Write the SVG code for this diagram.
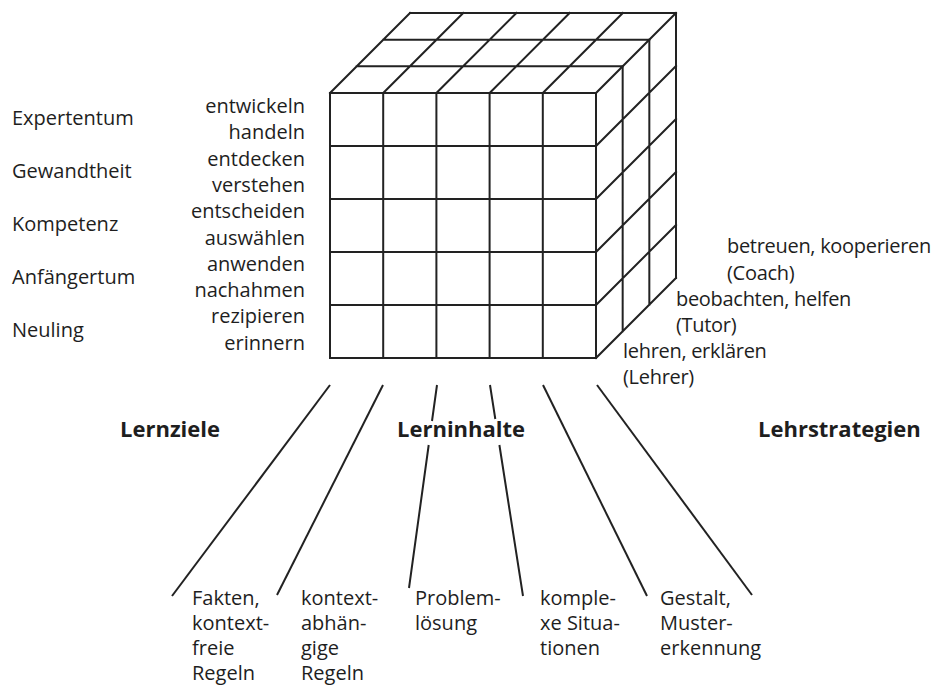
<svg xmlns="http://www.w3.org/2000/svg" width="936" height="685" viewBox="0 0 936 685">
  <style>
    .grid { fill: none; stroke: #222; stroke-width: 2; stroke-linecap: square; stroke-linejoin: miter; }
    .conn { fill: none; stroke: #222; stroke-width: 2; }
    text { font-family: "Open Sans", "Noto Sans", "Liberation Sans", sans-serif; font-size: 20px; fill: #1e1e1e; }
    .verb { text-anchor: end; }
    .tight { letter-spacing: -0.3px; }
    .head { font-weight: bold; font-size: 22px; }
  </style>
  <rect width="936" height="685" fill="#fff"/>

  <!-- the 5 x 5 x 3 cube -->
  <g id="cube">
    <!-- front face: levels x content types -->
    <path id="front-face" class="grid" d="M330 93H596M330 146H596M330 199H596M330 252H596M330 305H596M330 358H596
      M330 93V358M383.2 93V358M436.4 93V358M489.6 93V358M542.8 93V358M596 93V358"/>
    <!-- top face -->
    <path id="top-face" class="grid" d="M356.67 66.33H622.67M383.33 39.67H649.33M410 13H676
      M330 93l80 -80M383.2 93l80 -80M436.4 93l80 -80M489.6 93l80 -80M542.8 93l80 -80M596 93l80 -80"/>
    <!-- right face: teaching strategies -->
    <path id="right-face" class="grid" d="M622.67 66.33V331.33M649.33 39.67V304.67M676 13V278
      M596 146l80 -80M596 199l80 -80M596 252l80 -80M596 305l80 -80M596 358l80 -80"/>
  </g>

  <!-- competence levels -->
  <g id="levels">
    <text x="12" y="125">Expertentum</text>
    <text x="12" y="178">Gewandtheit</text>
    <text x="12" y="231">Kompetenz</text>
    <text x="12" y="284">Anfängertum</text>
    <text x="12" y="337">Neuling</text>
  </g>

  <!-- learning goals (verbs) -->
  <g id="goals">
    <text class="verb" x="305" y="113">entwickeln</text>
    <text class="verb" x="305" y="139.3">handeln</text>
    <text class="verb" x="305" y="165.6">entdecken</text>
    <text class="verb" x="305" y="191.9">verstehen</text>
    <text class="verb" x="305" y="218.2">entscheiden</text>
    <text class="verb" x="305" y="244.5">auswählen</text>
    <text class="verb" x="305" y="270.8">anwenden</text>
    <text class="verb" x="305" y="297.1">nachahmen</text>
    <text class="verb" x="305" y="323.4">rezipieren</text>
    <text class="verb" x="305" y="349.7">erinnern</text>
  </g>

  <!-- teaching strategies -->
  <g id="strategies" class="tight">
    <text x="727" y="253">betreuen, kooperieren</text>
    <text x="727" y="280">(Coach)</text>
    <text x="676" y="306">beobachten, helfen</text>
    <text x="676" y="332">(Tutor)</text>
    <text x="623" y="358">lehren, erklären</text>
    <text x="623" y="384">(Lehrer)</text>
  </g>

  <!-- axis titles -->
  <g id="titles">
    <text class="head" x="120" y="437">Lernziele</text>
    <text class="head" x="397" y="437">Lerninhalte</text>
    <text class="head" x="758" y="437">Lehrstrategien</text>
  </g>

  <!-- content columns -->
  <g id="contents">
    <text x="192" y="605">Fakten,</text>
    <text x="192" y="630">kontext-</text>
    <text x="192" y="655">freie</text>
    <text x="192" y="680">Regeln</text>

    <text x="301" y="605">kontext-</text>
    <text x="301" y="630">abhän-</text>
    <text x="301" y="655">gige</text>
    <text x="301" y="680">Regeln</text>

    <text x="415" y="605">Problem-</text>
    <text x="415" y="630">lösung</text>

    <text x="540" y="605">komple-</text>
    <text x="540" y="630">xe Situa-</text>
    <text x="540" y="655">tionen</text>

    <text x="660" y="605">Gestalt,</text>
    <text x="660" y="630">Muster-</text>
    <text x="660" y="655">erkennung</text>
  </g>

  <!-- connectors from the columns to the content labels -->
  <g id="connectors">
    <path class="conn" d="M330 385L172 596"/>
    <path class="conn" d="M383 385L277 595"/>
    <path class="conn" d="M437 385L432 421M428.7 445L409 588"/>
    <path class="conn" d="M490 385L495.3 419M499.4 445L523 596"/>
    <path class="conn" d="M543 385L647 596"/>
    <path class="conn" d="M597 385L752 595"/>
  </g>
</svg>
